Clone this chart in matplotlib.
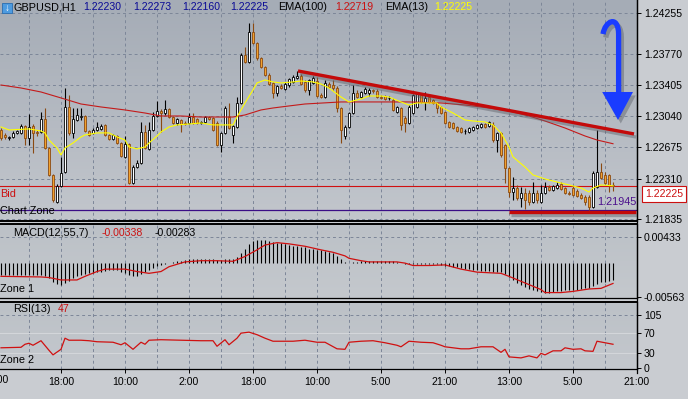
import numpy as np
import matplotlib
matplotlib.use("Agg")
import matplotlib.pyplot as plt
import matplotlib.patheffects as pe
from matplotlib.colors import LinearSegmentedColormap
from matplotlib.path import Path
from matplotlib.patches import PathPatch, Polygon, Rectangle

plt.rcParams['font.family'] = ['Liberation Sans', 'DejaVu Sans']

# ---- GBPUSD H1 candles ----
opens = [1.22881, 1.22822, 1.22787, 1.22799, 1.22846, 1.22846, 1.22928, 1.22787, 1.22928, 1.22857,
         1.22857, 1.23010, 1.22669, 1.22352, 1.22035, 1.22223, 1.22387, 1.23151, 1.22846, 1.22998,
         1.23033, 1.23045, 1.22869, 1.22846, 1.22881, 1.22893, 1.22940, 1.22822, 1.22775, 1.22810,
         1.22728, 1.22564, 1.22716, 1.22258, 1.22446, 1.22493, 1.22857, 1.22658, 1.22881, 1.23045,
         1.23104, 1.23080, 1.23127, 1.23033, 1.22963, 1.22998, 1.22963, 1.22963, 1.23033, 1.23010,
         1.22963, 1.22975, 1.23033, 1.23022, 1.22963, 1.22705, 1.22846, 1.23033, 1.22822, 1.22916,
         1.23198, 1.23762, 1.23680, 1.24032, 1.23903, 1.23727, 1.23621, 1.23527, 1.23433, 1.23315,
         1.23398, 1.23362, 1.23409, 1.23445, 1.23492, 1.23515, 1.23445, 1.23351, 1.23433, 1.23456,
         1.23292, 1.23268, 1.23421, 1.23409, 1.23374, 1.23139, 1.22810, 1.22916, 1.23080, 1.23315,
         1.23268, 1.23315, 1.23315, 1.23351, 1.23339, 1.23268, 1.23280, 1.23257, 1.23233, 1.23092,
         1.23139, 1.23022, 1.22963, 1.23080, 1.23151, 1.23292, 1.23210, 1.23268, 1.23233, 1.23198,
         1.23151, 1.23092, 1.22975, 1.22963, 1.22916, 1.22904, 1.22869, 1.22857, 1.22881, 1.22904,
         1.22916, 1.22951, 1.22928, 1.22940, 1.22763, 1.22846, 1.22705, 1.22434, 1.22152, 1.22199,
         1.22082, 1.22141, 1.22141, 1.22035, 1.22141, 1.22035, 1.22141, 1.22211, 1.22176, 1.22199,
         1.22246, 1.22199, 1.22141, 1.22199, 1.22164, 1.22117, 1.22094, 1.22094, 1.21976, 1.22211,
         1.22387, 1.22352, 1.22352, 1.22230]
highs = [1.22904, 1.22846, 1.22810, 1.22869, 1.22881, 1.22951, 1.22940, 1.23069, 1.22951, 1.22881,
         1.23092, 1.23139, 1.22681, 1.22363, 1.22246, 1.22564, 1.23374, 1.23292, 1.23139, 1.23139,
         1.23139, 1.23057, 1.22881, 1.22904, 1.22975, 1.22951, 1.22951, 1.22834, 1.22834, 1.22822,
         1.22740, 1.22810, 1.22728, 1.22470, 1.22528, 1.22975, 1.22940, 1.22975, 1.23092, 1.23221,
         1.23127, 1.23233, 1.23139, 1.23045, 1.23022, 1.23010, 1.22986, 1.23080, 1.23080, 1.23022,
         1.22986, 1.23045, 1.23045, 1.23033, 1.22986, 1.22857, 1.23163, 1.23198, 1.22940, 1.23268,
         1.23785, 1.23856, 1.24138, 1.24138, 1.23915, 1.23738, 1.23633, 1.23550, 1.23445, 1.23409,
         1.23421, 1.23445, 1.23492, 1.23527, 1.23574, 1.23539, 1.23468, 1.23480, 1.23515, 1.23503,
         1.23315, 1.23468, 1.23445, 1.23468, 1.23398, 1.23151, 1.22940, 1.23092, 1.23409, 1.23351,
         1.23339, 1.23386, 1.23374, 1.23362, 1.23362, 1.23292, 1.23292, 1.23280, 1.23257, 1.23163,
         1.23151, 1.23045, 1.23174, 1.23303, 1.23327, 1.23303, 1.23327, 1.23280, 1.23245, 1.23210,
         1.23163, 1.23104, 1.22986, 1.22975, 1.22928, 1.22916, 1.22893, 1.22916, 1.22928, 1.22951,
         1.22963, 1.22963, 1.22986, 1.22975, 1.22857, 1.22857, 1.22716, 1.22446, 1.22328, 1.22234,
         1.22211, 1.22199, 1.22176, 1.22269, 1.22176, 1.22234, 1.22269, 1.22234, 1.22234, 1.22269,
         1.22269, 1.22211, 1.22164, 1.22223, 1.22187, 1.22141, 1.22117, 1.22117, 1.22399, 1.22881,
         1.22493, 1.22387, 1.22363, 1.22273]
lows = [1.22763, 1.22775, 1.22763, 1.22787, 1.22834, 1.22834, 1.22705, 1.22705, 1.22611, 1.22810,
        1.22846, 1.22658, 1.22340, 1.22035, 1.22023, 1.22211, 1.22375, 1.22822, 1.22787, 1.22986,
        1.22998, 1.22857, 1.22810, 1.22834, 1.22869, 1.22881, 1.22810, 1.22763, 1.22763, 1.22716,
        1.22564, 1.22552, 1.22246, 1.22246, 1.22434, 1.22481, 1.22658, 1.22646, 1.22869, 1.23033,
        1.22857, 1.23057, 1.23022, 1.22951, 1.22940, 1.22857, 1.22940, 1.22951, 1.22951, 1.22951,
        1.22951, 1.22963, 1.22998, 1.22869, 1.22693, 1.22622, 1.22834, 1.22893, 1.22728, 1.22904,
        1.23186, 1.23668, 1.23668, 1.23891, 1.23703, 1.23609, 1.23515, 1.23409, 1.23257, 1.23280,
        1.23362, 1.23351, 1.23386, 1.23433, 1.23480, 1.23409, 1.23327, 1.23292, 1.23421, 1.23268,
        1.23257, 1.23257, 1.23374, 1.23351, 1.23092, 1.22728, 1.22775, 1.22904, 1.23069, 1.23257,
        1.23257, 1.23303, 1.23280, 1.23315, 1.23257, 1.23245, 1.23233, 1.23233, 1.23104, 1.23080,
        1.22881, 1.22857, 1.22951, 1.23069, 1.23139, 1.23198, 1.23116, 1.23198, 1.23186, 1.23080,
        1.23069, 1.22951, 1.22904, 1.22893, 1.22857, 1.22846, 1.22834, 1.22846, 1.22869, 1.22893,
        1.22904, 1.22904, 1.22916, 1.22740, 1.22622, 1.22564, 1.22258, 1.22094, 1.22058, 1.22058,
        1.21976, 1.21950, 1.22000, 1.22023, 1.22023, 1.22023, 1.22129, 1.22164, 1.22164, 1.22187,
        1.22176, 1.22129, 1.22117, 1.22105, 1.22094, 1.22070, 1.22000, 1.21945, 1.21964, 1.22199,
        1.22305, 1.22246, 1.22152, 1.22160]
closes = [1.22787, 1.22799, 1.22799, 1.22846, 1.22869, 1.22928, 1.22787, 1.22916, 1.22846, 1.22846,
          1.23010, 1.22669, 1.22352, 1.22058, 1.22223, 1.22375, 1.23151, 1.22846, 1.23010, 1.23057,
          1.23045, 1.22869, 1.22822, 1.22881, 1.22916, 1.22928, 1.22822, 1.22775, 1.22822, 1.22728,
          1.22576, 1.22716, 1.22258, 1.22446, 1.22493, 1.22857, 1.22669, 1.22881, 1.23045, 1.23104,
          1.23080, 1.23127, 1.23033, 1.22963, 1.23010, 1.22951, 1.22951, 1.23033, 1.22963, 1.22963,
          1.22975, 1.23033, 1.23010, 1.22881, 1.22705, 1.22846, 1.23139, 1.22904, 1.22928, 1.23198,
          1.23762, 1.23680, 1.24032, 1.23903, 1.23727, 1.23621, 1.23527, 1.23421, 1.23315, 1.23398,
          1.23374, 1.23421, 1.23480, 1.23503, 1.23515, 1.23421, 1.23351, 1.23468, 1.23492, 1.23280,
          1.23268, 1.23433, 1.23386, 1.23374, 1.23139, 1.22881, 1.22916, 1.23080, 1.23315, 1.23268,
          1.23327, 1.23362, 1.23351, 1.23339, 1.23268, 1.23257, 1.23245, 1.23257, 1.23116, 1.23151,
          1.22940, 1.22963, 1.23151, 1.23292, 1.23315, 1.23210, 1.23257, 1.23210, 1.23198, 1.23139,
          1.23080, 1.22963, 1.22916, 1.22904, 1.22869, 1.22857, 1.22869, 1.22904, 1.22916, 1.22940,
          1.22951, 1.22916, 1.22975, 1.22763, 1.22846, 1.22587, 1.22434, 1.22152, 1.22199, 1.22082,
          1.22141, 1.22058, 1.22035, 1.22141, 1.22058, 1.22141, 1.22211, 1.22176, 1.22223, 1.22234,
          1.22187, 1.22141, 1.22129, 1.22117, 1.22105, 1.22082, 1.22035, 1.21976, 1.22375, 1.22387,
          1.22316, 1.22258, 1.22234, 1.22225]

# moving averages, read at some bars (bar index, price)
ema13_bar = [0, 2, 7, 10, 11, 12, 14, 15, 16, 18, 20, 21, 24, 27, 29, 31, 32, 34, 36, 37,
             39, 40, 42, 44, 47, 50, 53, 58, 59, 61, 63, 64, 66, 68, 70, 73, 75, 78, 80, 82,
             85, 87, 90, 92, 95, 97, 100, 102, 104, 106, 109, 110, 113, 116, 118, 121, 123, 125, 127, 128,
             131, 133, 136, 139, 143, 145, 147, 148, 150, 153]
ema13_val = [1.22916, 1.22881, 1.22893, 1.22869, 1.22846, 1.22763, 1.22669, 1.22587, 1.22669, 1.22728,
             1.22799, 1.22822, 1.22846, 1.22846, 1.22799, 1.22763, 1.22681, 1.22658, 1.22681, 1.22728,
             1.22810, 1.22857, 1.22916, 1.22940, 1.22951, 1.22963, 1.22940, 1.22940, 1.23033, 1.23198,
             1.23351, 1.23433, 1.23468, 1.23445, 1.23433, 1.23445, 1.23456, 1.23445, 1.23421, 1.23374,
             1.23268, 1.23210, 1.23245, 1.23280, 1.23280, 1.23268, 1.23210, 1.23174, 1.23198, 1.23198,
             1.23198, 1.23151, 1.23080, 1.22998, 1.22986, 1.22975, 1.22940, 1.22846, 1.22681, 1.22564,
             1.22446, 1.22352, 1.22305, 1.22269, 1.22223, 1.22199, 1.22152, 1.22199, 1.22234, 1.22225]
ema100_bar = [0, 5, 10, 15, 20, 25, 31, 36, 40, 45, 50, 58, 61, 65, 68, 72, 76, 85, 102, 110,
              116, 122, 127, 132, 136, 141, 146, 149, 153]
ema100_val = [1.23409, 1.23374, 1.23327, 1.23257, 1.23186, 1.23151, 1.23116, 1.23080, 1.23045, 1.23045,
              1.23033, 1.23033, 1.23057, 1.23116, 1.23139, 1.23163, 1.23186, 1.23210, 1.23210, 1.23198,
              1.23174, 1.23139, 1.23104, 1.23045, 1.22986, 1.22904, 1.22810, 1.22763, 1.22719]

# MACD(12,55,7): histogram per bar, signal read at some bars
macd_hist = [-0.0020, -0.0020, -0.0020, -0.0020, -0.0019, -0.0019, -0.0020, -0.0019, -0.0020, -0.0020,
             -0.0019, -0.0021, -0.0024, -0.0031, -0.0035, -0.0037, -0.0033, -0.0029, -0.0025, -0.0022,
             -0.0020, -0.0018, -0.0017, -0.0016, -0.0015, -0.0014, -0.0013, -0.0012, -0.0011, -0.0012,
             -0.0014, -0.0016, -0.0020, -0.0021, -0.0021, -0.0018, -0.0015, -0.0011, -0.0008, -0.0005,
             -0.0003, -0.0001, 0.0001, 0.0002, 0.0003, 0.0004, 0.0005, 0.0006, 0.0006, 0.0006,
             0.0006, 0.0006, 0.0006, 0.0006, 0.0005, 0.0005, 0.0006, 0.0006, 0.0007, 0.0010,
             0.0017, 0.0024, 0.0031, 0.0036, 0.0038, 0.0039, 0.0038, 0.0037, 0.0035, 0.0034,
             0.0033, 0.0031, 0.0030, 0.0029, 0.0028, 0.0027, 0.0026, 0.0024, 0.0023, 0.0022,
             0.0021, 0.0020, 0.0019, 0.0017, 0.0012, 0.0006, 0.0002, 0.0001, 0.0002, 0.0002,
             0.0003, 0.0003, 0.0004, 0.0004, 0.0004, 0.0004, 0.0004, 0.0004, 0.0003, 0.0002,
             0.0000, -0.0001, -0.0001, -0.0001, -0.0001, -0.0001, -0.0001, -0.0001, -0.0002, -0.0002,
             -0.0003, -0.0004, -0.0005, -0.0006, -0.0007, -0.0008, -0.0009, -0.0010, -0.0011, -0.0012,
             -0.0013, -0.0013, -0.0013, -0.0014, -0.0014, -0.0015, -0.0018, -0.0023, -0.0028, -0.0033,
             -0.0037, -0.0040, -0.0043, -0.0045, -0.0047, -0.0048, -0.0049, -0.0049, -0.0048, -0.0047,
             -0.0046, -0.0045, -0.0045, -0.0045, -0.0044, -0.0043, -0.0042, -0.0041, -0.0038, -0.0034,
             -0.0032, -0.0031, -0.0029, -0.00283]
sig_bar = [0, 10, 12, 15, 19, 21, 24, 26, 31, 34, 37, 40, 42, 46, 50, 54, 58, 61, 64, 66,
           69, 72, 76, 80, 83, 86, 87, 90, 92, 99, 101, 103, 107, 111, 115, 119, 125, 127, 131, 135,
           136, 140, 143, 147, 150, 153]
sig_val = [-0.0022, -0.0023, -0.0024, -0.0028, -0.0028, -0.0022, -0.0014, -0.0010, -0.0010, -0.0014,
           -0.0017, -0.0014, -0.0006, 0.0002, 0.0004, 0.0004, 0.0003, 0.0011, 0.0022, 0.0030,
           0.0034, 0.0032, 0.0028, 0.0022, 0.0018, 0.0012, 0.0008, 0.0004, 0.0002, 0.0002,
           0.0000, -0.0004, -0.0004, -0.0003, -0.0010, -0.0015, -0.0017, -0.0022, -0.0033, -0.0044,
           -0.0049, -0.0049, -0.0047, -0.0043, -0.0042, -0.00338]

# RSI(13)
rsi_bar = [0, 5, 6, 7, 8, 10, 12, 13, 15, 16, 17, 20, 22, 24, 28, 30, 31, 33, 35, 36,
           37, 40, 45, 50, 53, 54, 56, 57, 59, 60, 62, 64, 66, 68, 73, 76, 79, 81, 84, 86,
           87, 90, 93, 96, 99, 100, 102, 105, 108, 110, 111, 115, 117, 120, 123, 125, 126, 127, 130, 132,
           134, 135, 136, 138, 140, 141, 143, 145, 146, 148, 149, 151, 153]
rsi_val = [40, 41, 47, 49, 45, 54, 35, 26, 37, 59, 55, 55, 54, 52, 51, 46, 50, 37, 51, 47,
           55, 56, 55, 54, 54, 43, 56, 46, 59, 69, 71, 66, 59, 53, 53, 55, 51, 51, 38, 37,
           51, 53, 54, 50, 45, 42, 53, 51, 50, 45, 42, 38, 38, 42, 42, 31, 37, 22, 20, 24,
           20, 29, 26, 34, 34, 40, 37, 38, 34, 33, 53, 50, 47]

# drawn objects
trend_bar = [74.25, 158.25]
trend_val = [1.23574, 1.22834]
support_bar = [127.0, 158.75]
support_val = [1.21917, 1.21917]
bid = 1.22225
zone_low = 1.21945

price_ticks = [1.24255, 1.23770, 1.23405, 1.23040, 1.22675, 1.22310, 1.21835]
time_pos = [15, 31, 47, 63, 79, 95, 111, 127, 143, 159]
time_lbl = ["18:00", "10:00", "2:00", "18:00", "10:00", "5:00", "21:00", "13:00", "5:00", "21:00"]

W, H = 688, 399
fig = plt.figure(figsize=(W / 100, H / 100), dpi=100)
fig.patch.set_facecolor('#c9ccd1')

o = np.array(opens); hi = np.array(highs); lo = np.array(lows); c = np.array(closes)
idx = np.arange(len(c))
XL = (-0.25, 159.0)
GRID = '#7c8698'


def panel(top, bottom, c_top, c_bot):
    a = fig.add_axes([0, 1 - bottom / H, 637 / W, (bottom - top) / H])
    cmap = LinearSegmentedColormap.from_list('bg', [c_bot, c_top])
    a.imshow(np.linspace(0, 1, 64).reshape(-1, 1), cmap=cmap, aspect='auto',
             extent=(0, 1, 0, 1), transform=a.transAxes, origin='lower', zorder=0)
    for s in ['left', 'top']:
        a.spines[s].set_visible(False)
    for s in ['right', 'bottom']:
        a.spines[s].set_color('black')
        a.spines[s].set_linewidth(0.9)
    a.yaxis.tick_right()
    a.tick_params(axis='y', direction='out', length=3, width=0.7, pad=2, labelsize=7.6, colors='black')
    a.set_xticks([])
    for g in range(7, 159, 8):
        a.axvline(g, color=GRID, lw=0.7, ls=(0, (3, 3)), zorder=1)
    return a


def txt(x, y, s, color='black', size=7.8, ha='left', **kw):
    return fig.text(x / W, 1 - y / H, s, color=color, fontsize=size, ha=ha, va='center', **kw)


# ---- main price panel ----
ax = panel(0, 221, '#a5acb6', '#c2c6cc')
ax.spines['bottom'].set_linewidth(1.4)
up = c > o
flat = c == o
wick_col = np.where(up | flat, 'black', '#8a4a12')
ax.vlines(idx, lo, hi, colors=wick_col, lw=0.8, zorder=3)
body_face = np.where(up, 'white', np.where(flat, 'black', '#f2a12e'))
body_edge = np.where(up | flat, 'black', '#8a4a12')
ax.bar(idx, np.abs(c - o), bottom=np.minimum(o, c), width=0.55, color=body_face,
       edgecolor=body_edge, linewidth=0.6, zorder=3)

ax.plot(ema100_bar, ema100_val, color='#c41a1a', lw=0.8, zorder=4)
ax.plot(ema13_bar, ema13_val, color='#ffff00', lw=0.8, zorder=4)
for p in price_ticks:
    ax.axhline(p, color=GRID, lw=0.7, ls=(0, (3, 3)), zorder=1)
ax.axhline(bid, color='#d01010', lw=0.8, zorder=2)
ax.axhline(zone_low, color='#3a0d86', lw=0.9, zorder=2)

shadow = [pe.SimpleLineShadow(offset=(1.5, -2.2), shadow_color='#5d6068', alpha=0.45), pe.Normal()]
ax.plot(trend_bar, trend_val, color='#c40a0a', lw=2.4, solid_capstyle='butt', zorder=5, path_effects=shadow)
ax.plot(support_bar, support_val, color='#c40a0a', lw=2.4, solid_capstyle='butt', zorder=5, path_effects=shadow)

# blue arrow
shaft = Path([(150.5, 1.24008), (151.0, 1.24160), (154.3, 1.24240), (154.4, 1.24008), (154.4, 1.23300)],
             [Path.MOVETO, Path.CURVE4, Path.CURVE4, Path.CURVE4, Path.LINETO])
ax.add_patch(PathPatch(shaft, facecolor='none', edgecolor='#1a3cff', lw=3.8, capstyle='butt', zorder=6,
                       path_effects=[pe.SimpleLineShadow(offset=(2, -2.5), shadow_color='#50545c', alpha=0.4),
                                     pe.Normal()]))
ax.add_patch(Polygon([(150.3, 1.23327), (158.0, 1.23327), (154.25, 1.22998)], closed=True,
                     facecolor='#1a3cff', edgecolor='none', zorder=6,
                     path_effects=[pe.SimplePatchShadow(offset=(2, -2.5), shadow_rgbFace='#50545c', alpha=0.4),
                                   pe.Normal()]))

ax.set_yticks(price_ticks)
ax.set_yticklabels(['%.5f' % p for p in price_ticks])
ax.set_xlim(*XL)
ax.set_ylim(1.21811, 1.24408)

# ---- MACD panel ----
am = panel(224, 298, '#bcc1c7', '#c4c8cd')
am.spines['top'].set_visible(True)
am.spines['top'].set_linewidth(1.4)
am.vlines(idx, 0, macd_hist, colors='black', lw=0.8, zorder=3)
am.plot(sig_bar, sig_val, color='#d01010', lw=0.9, zorder=4)
am.axhline(0.00433, color=GRID, lw=0.7, ls=(0, (3, 3)), zorder=1)
am.set_yticks([0.00433, -0.00563])
am.set_yticklabels(['0.00433', '-0.00563'])
am.set_xlim(*XL)
am.set_ylim(-0.0058, 0.0065)

# ---- RSI panel ----
ar = panel(302, 369, '#bcc1c7', '#c4c8cd')
ar.spines['top'].set_visible(True)
ar.spines['top'].set_linewidth(1.4)
ar.axhline(105, color=GRID, lw=0.7, ls=(0, (3, 3)), zorder=1)
for lvl in (70, 30):
    ar.axhline(lvl, color='#d3d6da', lw=0.8, zorder=1)
ar.plot(rsi_bar, rsi_val, color='#d01010', lw=0.9, zorder=4)
ar.set_yticks([105, 70, 30, 0])
ar.set_yticklabels(['105', '70', '30', '0'])
ar.set_xticks(time_pos)
ar.set_xticklabels(time_lbl)
ar.tick_params(axis='x', direction='out', length=3, width=0.7, pad=3, labelsize=7.6, colors='black')
ar.set_xlim(*XL)
ar.set_ylim(-2, 130.7)

# axis line through the gaps between panels
fig.add_artist(plt.Line2D([637 / W, 637 / W], [1 - 373 / H, 1], color='black', lw=0.9,
                          transform=fig.transFigure))

# ---- texts ----
fig.add_artist(Rectangle((2 / W, 1 - 13 / H), 10 / W, 10 / H, transform=fig.transFigure,
                         facecolor='#4d9be0', edgecolor='#2a6db0', lw=0.6))
txt(7, 8, '↓', color='white', size=7, ha='center', fontweight='bold')
txt(13, 7, 'GBPUSD,H1', size=7.8)
for x, s in zip([83, 133, 182, 230], ['1.22230', '1.22273', '1.22160', '1.22225']):
    txt(x, 7, s, color='#0a0a96', size=7.6)
txt(278, 7, 'EMA(100)', size=7.8)
txt(335, 7, '1.22719', color='#cc1010', size=7.6)
txt(385, 7, 'EMA(13)', size=7.8)
txt(434, 7, '1.22225', color='#ffff00', size=7.6)

txt(0, 194, 'Bid', color='#cc1010', size=7.8)
txt(0, 211, 'Chart Zone', size=7.8)
txt(597, 202, '1.21945', color='#4b0f8c', size=7.8)
txt(664, 194, '1.22225', color='#cc1010', size=7.6, ha='center',
    bbox=dict(boxstyle='square,pad=0.25', facecolor='white', edgecolor='#cc1010', lw=0.8))

txt(13, 233, 'MACD(12,55,7)', size=7.8)
txt(102, 233, '-0.00338', color='#cc1010', size=7.6)
txt(155, 233, '-0.00283', size=7.6)
txt(0, 289, 'Zone 1', size=7.8)

txt(13, 309, 'RSI(13)', size=7.8)
txt(58, 309, '47', color='#cc1010', size=7.6)
txt(0, 360, 'Zone 2', size=7.8)
# first time label, cut by the left edge as in the screenshot
txt(-1.5, 380, '2:00', size=7.6, ha='center')

fig.savefig('out.png', dpi=100, facecolor=fig.get_facecolor())
